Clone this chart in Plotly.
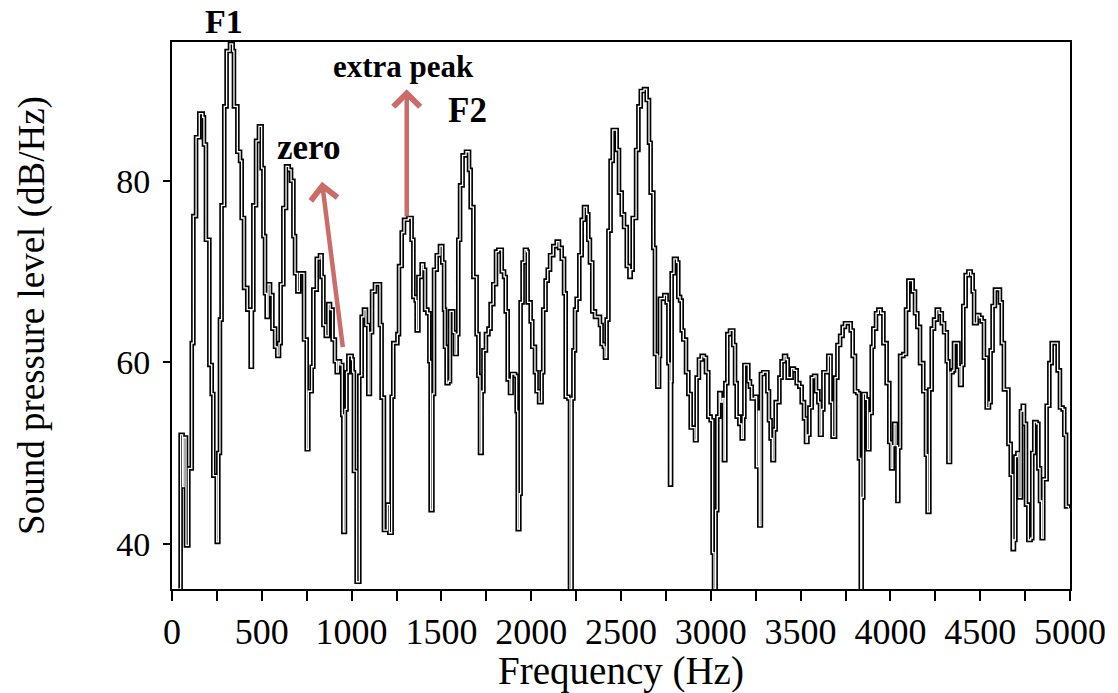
import plotly.graph_objects as go

# Spectrum (frequency in Hz, level in dB/Hz)
freq_hz = [35, 48, 59, 67, 78, 91, 110, 119, 134, 152, 171, 178, 189, 208, 221, 230, 249, 258, 267, 276,
           291, 304, 323, 338, 345, 364, 379, 388, 401, 419, 438, 445, 453, 468, 484, 499, 509, 518, 527, 535,
           546, 559, 574, 586, 596, 605, 620, 635, 650, 663, 676, 685, 698, 709, 722, 735, 750, 759, 778, 787,
           806, 824, 833, 843, 856, 870, 880, 894, 907, 917, 926, 935, 948, 954, 963, 972, 982, 1000, 1006, 1013,
           1028, 1043, 1056, 1069, 1080, 1093, 1102, 1114, 1130, 1149, 1158, 1167, 1180, 1199, 1210, 1223, 1232, 1255, 1264, 1279,
           1292, 1316, 1334, 1344, 1357, 1362, 1372, 1390, 1399, 1409, 1422, 1433, 1440, 1450, 1459, 1474, 1492, 1505, 1515, 1520,
           1529, 1539, 1548, 1566, 1576, 1585, 1594, 1604, 1618, 1637, 1654, 1663, 1678, 1696, 1706, 1715, 1724, 1734, 1748, 1762,
           1774, 1789, 1804, 1817, 1836, 1849, 1858, 1869, 1882, 1891, 1910, 1919, 1925, 1934, 1941, 1952, 1965, 1975, 1980, 1997,
           2006, 2021, 2030, 2044, 2058, 2067, 2080, 2092, 2105, 2123, 2142, 2155, 2170, 2183, 2192, 2207, 2216, 2225, 2235, 2244,
           2253, 2268, 2281, 2294, 2309, 2318, 2327, 2340, 2355, 2383, 2392, 2405, 2411, 2420, 2430, 2442, 2454, 2467, 2476, 2489,
           2504, 2517, 2532, 2547, 2554, 2565, 2584, 2597, 2610, 2628, 2643, 2656, 2665, 2680, 2689, 2702, 2712, 2717, 2741, 2754,
           2764, 2773, 2779, 2782, 2795, 2810, 2819, 2829, 2838, 2847, 2862, 2875, 2888, 2903, 2912, 2921, 2934, 2949, 2962, 2973,
           2986, 2999, 3010, 3018, 3027, 3036, 3047, 3055, 3064, 3073, 3081, 3092, 3107, 3125, 3135, 3144, 3159, 3172, 3181, 3187,
           3200, 3209, 3218, 3228, 3246, 3255, 3265, 3270, 3279, 3292, 3305, 3315, 3324, 3333, 3343, 3352, 3361, 3382, 3394, 3408,
           3419, 3428, 3441, 3450, 3463, 3478, 3493, 3506, 3519, 3530, 3538, 3549, 3562, 3575, 3586, 3599, 3608, 3617, 3627, 3645,
           3654, 3667, 3678, 3692, 3705, 3720, 3734, 3747, 3766, 3779, 3790, 3803, 3816, 3825, 3835, 3840, 3849, 3862, 3873, 3883,
           3896, 3905, 3920, 3933, 3946, 3961, 3979, 3994, 4004, 4013, 4021, 4031, 4039, 4044, 4054, 4072, 4087, 4100, 4113, 4124,
           4137, 4150, 4165, 4183, 4198, 4207, 4217, 4230, 4243, 4258, 4271, 4286, 4299, 4314, 4323, 4332, 4347, 4354, 4369, 4379,
           4388, 4397, 4406, 4419, 4434, 4447, 4458, 4466, 4481, 4495, 4508, 4521, 4536, 4549, 4558, 4569, 4582, 4601, 4610, 4620,
           4632, 4647, 4657, 4670, 4681, 4688, 4696, 4707, 4716, 4727, 4737, 4744, 4755, 4768, 4781, 4790, 4801, 4814, 4824, 4833,
           4842, 4851, 4861, 4870, 4885, 4898, 4920, 4931, 4944, 4959, 4968, 4978, 4991]

spl_db = [35.0, 52.0, 46.3, 51.7, 39.8, 48.3, 62.1, 76.1, 84.8, 87.4, 87.0, 84.0, 73.5, 59.7, 56.5, 47.5, 40.2, 50.0, 64.7, 77.3,
          88.2, 94.3, 95.1, 94.3, 88.2, 83.2, 82.2, 75.9, 68.2, 65.8, 59.5, 65.8, 77.3, 84.4, 86.0, 81.4, 73.9, 67.6, 65.0, 68.6,
          67.4, 63.7, 61.7, 60.7, 62.1, 68.6, 77.0, 81.6, 81.2, 80.0, 73.9, 69.8, 67.8, 69.8, 69.8, 62.5, 50.4, 56.8, 59.5, 68.0,
          71.4, 71.8, 69.4, 64.1, 62.9, 66.4, 65.8, 62.5, 60.1, 58.9, 60.1, 59.7, 54.2, 41.3, 54.8, 58.9, 60.7, 60.3, 58.9, 48.0,
          35.8, 58.5, 65.0, 65.8, 64.1, 56.5, 63.3, 67.8, 68.6, 68.6, 64.1, 56.1, 41.5, 44.3, 41.2, 56.2, 62.1, 63.1, 70.6, 74.3,
          75.7, 75.9, 73.5, 67.2, 66.8, 63.5, 69.4, 70.8, 70.2, 65.8, 65.4, 60.1, 43.7, 56.5, 70.2, 71.8, 72.8, 71.0, 65.8, 61.7,
          57.7, 57.9, 65.6, 63.3, 60.9, 63.1, 73.5, 79.5, 82.8, 83.2, 81.2, 77.1, 69.4, 63.1, 58.5, 50.0, 56.8, 61.3, 63.1, 63.7,
          66.4, 68.6, 72.2, 72.4, 70.0, 69.4, 65.6, 58.1, 56.6, 58.7, 58.5, 54.6, 41.6, 45.5, 66.6, 71.0, 72.4, 72.2, 66.6, 64.5,
          61.7, 58.9, 56.8, 55.6, 58.9, 65.8, 69.0, 70.2, 71.8, 72.8, 73.3, 72.6, 71.4, 67.6, 56.2, 56.0, 35.0, 56.0, 61.3, 65.8,
          67.0, 71.8, 75.7, 77.1, 76.3, 73.5, 71.0, 65.6, 65.0, 64.1, 62.0, 61.7, 60.5, 64.7, 74.5, 82.2, 85.6, 85.6, 83.4, 78.7,
          76.3, 74.9, 70.6, 69.4, 70.2, 75.9, 83.4, 88.2, 89.9, 90.1, 88.9, 84.2, 78.7, 72.6, 60.9, 57.3, 60.7, 67.0, 67.4, 66.6,
          59.9, 46.5, 57.9, 69.8, 71.4, 71.0, 67.2, 66.8, 63.5, 62.5, 58.9, 56.5, 52.8, 52.8, 51.4, 58.3, 60.3, 60.7, 60.5, 58.9,
          54.0, 53.6, 39.0, 35.0, 43.7, 54.0, 56.6, 55.6, 56.0, 49.2, 57.7, 63.1, 63.5, 61.9, 57.7, 54.0, 53.2, 51.6, 54.0, 59.7,
          59.7, 57.9, 57.3, 56.0, 56.2, 48.5, 54.6, 42.0, 58.7, 58.9, 58.9, 56.8, 53.6, 51.6, 49.2, 52.6, 55.6, 58.3, 60.1, 60.7,
          60.3, 58.3, 58.3, 59.3, 59.1, 57.7, 57.3, 55.6, 53.8, 51.2, 52.0, 55.0, 58.3, 58.5, 56.8, 55.6, 52.0, 54.8, 58.9, 58.9,
          60.7, 55.6, 51.8, 58.3, 61.9, 62.9, 63.9, 64.3, 64.3, 63.5, 60.7, 56.8, 56.6, 49.4, 35.0, 45.1, 56.5, 55.9, 50.4, 54.4,
          61.7, 63.7, 65.4, 65.8, 65.4, 62.1, 57.7, 51.2, 48.3, 50.8, 53.2, 50.8, 44.7, 50.6, 60.7, 60.9, 65.8, 69.0, 69.0, 67.8,
          65.4, 63.9, 59.9, 56.8, 49.8, 43.5, 57.0, 63.7, 64.7, 65.8, 65.4, 64.3, 63.3, 60.1, 49.0, 58.9, 59.1, 62.1, 62.1, 59.5,
          57.5, 59.7, 66.2, 69.6, 70.0, 69.6, 67.8, 64.3, 65.2, 64.9, 64.5, 60.5, 55.0, 55.6, 61.3, 66.2, 68.0, 68.0, 66.6, 62.1,
          57.0, 57.0, 51.0, 47.6, 39.4, 40.4, 49.6, 50.0, 45.1, 54.6, 55.2, 53.2, 44.3, 40.4, 40.6, 50.0, 53.4, 53.2, 48.3, 44.7,
          40.6, 47.1, 47.1, 55.2, 59.9, 62.1, 62.1, 59.1, 55.0, 54.8, 52.0, 44.1, 43.9]

x_tick_vals = [0, 500, 1000, 1500, 2000, 2500, 3000, 3500, 4000, 4500, 5000]
y_tick_vals = [40, 60, 80]

# Annotation texts and positions (Hz, dB); F1 sits above the frame
label_text = ["F1", "extra peak", "F2", "zero"]
label_x = [290, 1290, 1645, 760]
label_y = [97.6, 92.6, 87.8, 83.7]
label_size = [34, 31, 35, 35]

# Arrows: tip and tail (Hz, dB)
arrow_tip_x = [835, 1307]
arrow_tip_y = [79.9, 90.1]
arrow_tail_x = [952, 1307]
arrow_tail_y = [61.5, 75.9]

SERIF = "Liberation Serif, Times New Roman, serif"
Y_MIN, Y_MAX = 35, 95.3

fig = go.Figure()
fig.add_trace(go.Scatter(x=freq_hz, y=spl_db, mode="lines", line=dict(color="black", width=4.6, shape="hv"),
                         showlegend=False, hoverinfo="skip"))
fig.add_trace(go.Scatter(x=freq_hz, y=spl_db, mode="lines", line=dict(color="white", width=1.3, shape="hv"),
                         showlegend=False, hoverinfo="skip"))

for t, x, y, s in zip(label_text, label_x, label_y, label_size):
    if y > Y_MAX:
        fig.add_annotation(x=x, y=(y - Y_MIN) / (Y_MAX - Y_MIN), xref="x", yref="paper",
                           xanchor="center", yanchor="middle",
                           text="<b>%s</b>" % t, showarrow=False,
                           font=dict(family=SERIF, size=s, color="black"))
    else:
        fig.add_annotation(x=x, y=y, xref="x", yref="y", text="<b>%s</b>" % t, showarrow=False,
                           xanchor="center", yanchor="middle",
                           font=dict(family=SERIF, size=s, color="black"))

for tx, ty, sx, sy in zip(arrow_tip_x, arrow_tip_y, arrow_tail_x, arrow_tail_y):
    fig.add_annotation(x=tx, y=ty, ax=sx, ay=sy, xref="x", yref="y", axref="x", ayref="y", text="",
                       showarrow=True, arrowhead=4, arrowsize=1.15, arrowwidth=4.5,
                       arrowcolor="rgba(196,88,84,0.88)", standoff=0, startstandoff=0)

fig.update_layout(
    width=1118, height=693,
    margin=dict(l=172, r=48, t=42, b=100),
    paper_bgcolor="white", plot_bgcolor="white",
    font=dict(family=SERIF, color="black"),
    xaxis=dict(range=[0, 5000], tickvals=x_tick_vals, ticktext=[str(v) for v in x_tick_vals],
               ticks="outside", ticklen=10, tickwidth=1.5, tickcolor="black",
               minor=dict(dtick=250, ticks="outside", ticklen=10, tickwidth=1.5, tickcolor="black"),
               showline=True, linecolor="black", linewidth=2, mirror=True, showgrid=False, zeroline=False,
               tickfont=dict(family=SERIF, size=36, color="black"),
               title=dict(text="Frequency (Hz)", font=dict(family=SERIF, size=39, color="black"), standoff=1)),
    yaxis=dict(range=[Y_MIN, Y_MAX], tickvals=y_tick_vals, ticks="outside", ticklen=7, tickwidth=1.5,
               tickcolor="black", showline=True, linecolor="black", linewidth=2, mirror=True,
               showgrid=False, zeroline=False, ticklabelstandoff=6,
               tickfont=dict(family=SERIF, size=34, color="black"),
               title=dict(text="Sound pressure level (dB/Hz)", font=dict(family=SERIF, size=37, color="black"),
                          standoff=60)),
)

fig.write_html("out.html")
